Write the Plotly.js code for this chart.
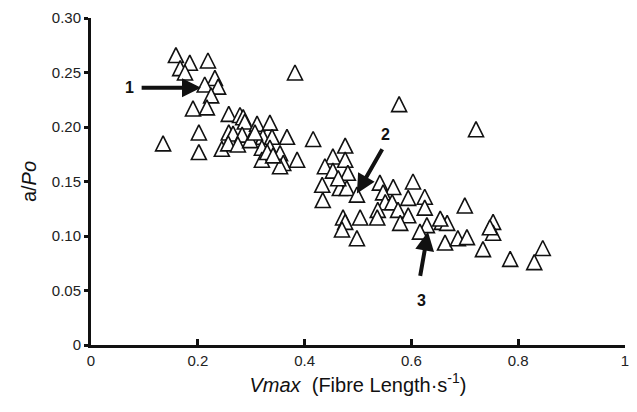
<!DOCTYPE html>
<html>
<head>
<meta charset="utf-8">
<script src="https://cdn.plot.ly/plotly-3.0.1.min.js"></script>
<style>html,body{margin:0;padding:0;background:#fff;}#chart{width:637px;height:412px;}</style>
</head>
<body>
<div id="chart"></div>
<script>
// Vmax (Fibre Length·s^-1)
const vmax = [
  0.159,0.185,0.219,0.167,0.176,0.232,0.213,0.238,0.225,0.191,0.217,0.135,0.202,0.202,
  0.258,0.279,0.285,0.288,0.311,0.335,0.258,0.266,0.283,0.322,0.339,0.367,0.245,0.257,
  0.275,0.320,0.335,0.354,0.320,0.360,0.354,0.386,0.416,0.382,0.577,0.721,0.330,0.341,
  0.298,0.307,
  0.453,0.476,0.476,0.438,0.453,0.481,0.433,0.466,0.479,0.498,0.434,0.472,0.476,0.470,
  0.504,0.498,0.463,
  0.541,0.566,0.603,0.547,0.551,0.564,0.537,0.575,0.594,0.625,0.625,0.594,0.536,0.579,
  0.629,0.616,0.657,0.667,0.663,
  0.700,0.654,0.753,0.753,0.687,0.704,0.734,0.785,0.846,0.830,0.747
];
// a/Po
const aPo = [
  0.266,0.259,0.261,0.254,0.250,0.245,0.239,0.237,0.229,0.217,0.218,0.185,0.195,0.177,
  0.212,0.211,0.209,0.205,0.203,0.204,0.195,0.194,0.193,0.191,0.191,0.191,0.180,0.185,
  0.184,0.181,0.181,0.176,0.170,0.167,0.164,0.170,0.189,0.250,0.221,0.198,0.177,0.174,
  0.188,0.195,
  0.173,0.183,0.170,0.164,0.160,0.158,0.147,0.144,0.144,0.138,0.133,0.117,0.113,0.106,
  0.117,0.098,0.153,
  0.149,0.145,0.150,0.140,0.131,0.131,0.124,0.124,0.135,0.136,0.126,0.119,0.117,0.112,
  0.110,0.104,0.113,0.112,0.094,
  0.128,0.116,0.113,0.103,0.098,0.099,0.088,0.079,0.089,0.076,0.108
];
const xTicks = [0, 0.2, 0.4, 0.6, 0.8, 1];
const xTickText = ['0', '0.2', '0.4', '0.6', '0.8', '1'];
const yTicks = [0, 0.05, 0.10, 0.15, 0.20, 0.25, 0.30];
const yTickText = ['0', '0.05', '0.10', '0.15', '0.20', '0.25', '0.30'];
// Arrow callouts: label, label position, arrow tail, arrow head
const calloutLabels = ['1', '2', '3'];
const calloutLabelX = [0.073, 0.551, 0.618];
const calloutLabelY = [0.236, 0.193, 0.041];
const arrowTailX = [0.092, 0.547, 0.616];
const arrowTailY = [0.236, 0.181, 0.062];
const arrowHeadX = [0.206, 0.498, 0.631];
const arrowHeadY = [0.236, 0.139, 0.104];

const FONT = 'Liberation Sans, Arial, sans-serif';

const trace = {
  x: vmax, y: aPo, type: 'scatter', mode: 'markers',
  marker: {
    symbol: 'arrow-down', angle: 180, standoff: 7.5, size: 15,
    color: '#ffffff', line: {color: '#111111', width: 1.6}
  },
  hoverinfo: 'none'
};

const annotations = [];
for (let i = 0; i < calloutLabels.length; i++) {
  annotations.push({
    x: arrowHeadX[i], y: arrowHeadY[i], xref: 'x', yref: 'y',
    ax: arrowTailX[i], ay: arrowTailY[i], axref: 'x', ayref: 'y',
    text: '', showarrow: true, arrowhead: 2, arrowsize: 0.95, arrowwidth: 4,
    arrowcolor: '#111111', standoff: 0, startstandoff: 0
  });
  annotations.push({
    x: calloutLabelX[i], y: calloutLabelY[i], xref: 'x', yref: 'y',
    text: '<b>' + calloutLabels[i] + '</b>', showarrow: false,
    font: {family: FONT, size: 16, color: '#111111'}
  });
}

const layout = {
  width: 637, height: 412,
  margin: {l: 91, r: 12, t: 18, b: 67},
  paper_bgcolor: '#ffffff', plot_bgcolor: '#ffffff',
  showlegend: false,
  font: {family: FONT, color: '#222222'},
  xaxis: {
    range: [0, 1], tickvals: xTicks, ticktext: xTickText,
    showgrid: false, zeroline: false, showline: true, linecolor: '#111111', linewidth: 3,
    ticks: 'inside', ticklen: 6, tickwidth: 3, tickcolor: '#111111',
    tickfont: {family: FONT, size: 15, color: '#222222'},
    title: {text: '<i>Vmax</i>  (Fibre Length·s<sup>-1</sup>)', font: {family: FONT, size: 20, color: '#111111'}, standoff: 10}
  },
  yaxis: {
    range: [0, 0.30], tickvals: yTicks, ticktext: yTickText,
    showgrid: false, zeroline: false, showline: true, linecolor: '#111111', linewidth: 3,
    ticks: 'outside', ticklen: 4, tickwidth: 3, tickcolor: '#111111',
    tickfont: {family: FONT, size: 15, color: '#222222'},
    title: {text: 'a/<i>Po</i>', font: {family: FONT, size: 20, color: '#111111'}, standoff: 10}
  },
  annotations: annotations
};

Plotly.newPlot('chart', [trace], layout, {displayModeBar: false, staticPlot: true});
</script>
</body>
</html>
